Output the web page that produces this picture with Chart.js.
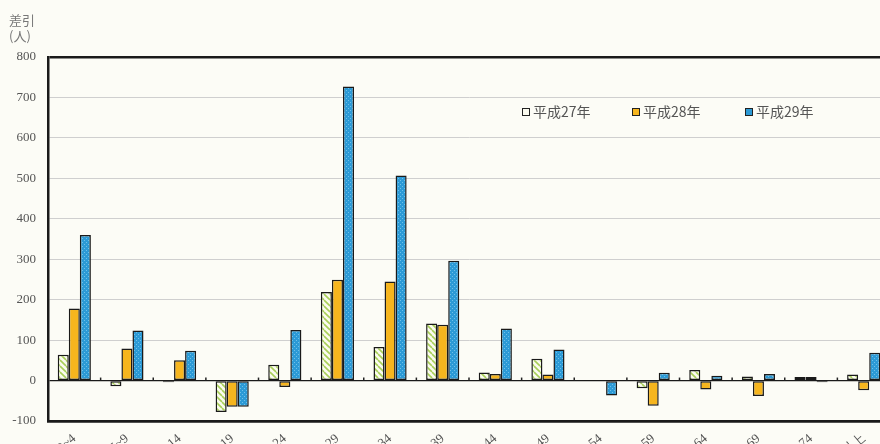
<!DOCTYPE html>
<html lang="ja">
<head>
<meta charset="utf-8">
<title>年齢別 差引</title>
<script src="https://cdn.jsdelivr.net/npm/chart.js@4/dist/chart.umd.min.js"></script>
<style>
  html, body { margin: 0; padding: 0; background: #fcfcf6; }
  #frame { position: relative; width: 880px; height: 444px; overflow: hidden; }
  #box { position: absolute; left: 0; top: 0; width: 910px; height: 480px; }
  .unit { position: absolute; left: 9px; font: 13px "Noto Sans CJK JP", sans-serif; color: #777; line-height: 16px; }
  .legend { position: absolute; top: 101px; font: 14px "Noto Sans CJK JP", sans-serif; color: #555; white-space: nowrap; }
  .legend i { display: inline-block; width: 6px; height: 6px; border: 1.5px solid #222; margin-right: 3px; vertical-align: 1px; }
</style>
</head>
<body>
<div id="frame">
  <div id="box"><canvas id="diffChart"></canvas></div>
  <div class="unit" style="top:12px">差引<br>(人)</div>
  <div class="legend" style="left:522px"><i style="background:#fbfbef"></i>平成27年</div>
  <div class="legend" style="left:632px"><i style="background:#f6b51e"></i>平成28年</div>
  <div class="legend" style="left:745px"><i style="background:#2c9ad6"></i>平成29年</div>
</div>
<script>
// ========== DATA ==========
const categories = ["0~4", "5~9", "10~14", "15~19", "20~24", "25~29", "30~34", "35~39",
  "40~44", "45~49", "50~54", "55~59", "60~64", "65~69", "70~74", "75以上"];
const seriesNames = ["平成27年", "平成28年", "平成29年"];
const h27 = [64, -14, -4, -78, 39, 219, 83, 141, 20, 54, 1, -19, 26, 10, 9, 15];
const h28 = [178, 79, 50, -65, -16, 249, 245, 138, 16, 15, 1, -62, -22, -38, 9, -24];
const h29 = [360, 124, 74, -65, 125, 727, 507, 296, 129, 77, -37, 19, 12, 16, -4, 69];
const yMin = -100;
const yMax = 800;
const yStep = 100;

// ========== FILL PATTERNS ==========
function hatchPattern() {
  const c = document.createElement("canvas");
  c.width = 6; c.height = 6;
  const g = c.getContext("2d");
  g.fillStyle = "#fbfbef";
  g.fillRect(0, 0, 6, 6);
  g.strokeStyle = "#a8cf58";
  g.lineWidth = 1.6;
  for (const k of [-6, 0, 6]) {
    g.beginPath();
    g.moveTo(k, 0);
    g.lineTo(k + 6, 6);
    g.stroke();
  }
  return g.createPattern(c, "repeat");
}

function dotPattern() {
  const c = document.createElement("canvas");
  c.width = 4; c.height = 4;
  const g = c.getContext("2d");
  g.fillStyle = "#2c9ad6";
  g.fillRect(0, 0, 4, 4);
  g.fillStyle = "#6fc0ea";
  g.fillRect(0, 0, 1, 1);
  g.fillRect(2, 2, 1, 1);
  return g.createPattern(c, "repeat");
}

// small marks on the zero line between age groups
const zeroTicks = {
  id: "zeroTicks",
  afterDatasetsDraw(chart) {
    const x = chart.scales.x, y = chart.scales.y, ctx = chart.ctx;
    const y0 = y.getPixelForValue(0);
    ctx.save();
    ctx.strokeStyle = "#222";
    ctx.lineWidth = 1.5;
    for (let i = 1; i < categories.length; i++) {
      const px = (x.getPixelForValue(i - 1) + x.getPixelForValue(i)) / 2;
      ctx.beginPath();
      ctx.moveTo(px, y0 - 3);
      ctx.lineTo(px, y0);
      ctx.stroke();
    }
    ctx.restore();
  },
};

// ========== CHART ==========
const tickFont = { family: "'Liberation Serif', 'DejaVu Serif', serif", size: 13 };

new Chart(document.getElementById("diffChart"), {
  type: "bar",
  data: {
    labels: categories,
    datasets: [
      { label: seriesNames[0], data: h27, backgroundColor: hatchPattern() },
      { label: seriesNames[1], data: h28, backgroundColor: "#f6b51e" },
      { label: seriesNames[2], data: h29, backgroundColor: dotPattern() },
    ].map((d) => Object.assign(d, {
      borderColor: "#1a1a1a",
      borderWidth: 1.5,
      borderSkipped: false,
      barPercentage: 1,
      categoryPercentage: 0.63,
    })),
  },
  options: {
    responsive: true,
    maintainAspectRatio: false,
    animation: false,
    layout: { padding: { top: 57, right: 20, left: 0, bottom: 0 } },
    plugins: { legend: { display: false }, tooltip: { enabled: false } },
    scales: {
      x: {
        grid: { display: false },
        border: { display: true, color: "#1a1a1a", width: 2.5 },
        ticks: { color: "#555", font: tickFont, minRotation: 40, maxRotation: 40, padding: 2 },
        afterFit(scale) { scale.height = 59; },
      },
      y: {
        min: yMin,
        max: yMax,
        ticks: { stepSize: yStep, color: "#555", font: tickFont, padding: 12 },
        border: { display: true, color: "#1a1a1a", width: 2.5 },
        grid: {
          drawTicks: false,
          color: (c) => (c.tick.value === 0 || c.tick.value === yMax || c.tick.value === yMin) ? "#1a1a1a" : "#cfcfcf",
          lineWidth: (c) => (c.tick.value === yMax || c.tick.value === yMin) ? 2.5 : (c.tick.value === 0 ? 1.2 : 1),
        },
        afterFit(scale) { scale.width = 48; },
      },
    },
  },
  plugins: [zeroTicks],
});
</script>
</body>
</html>
